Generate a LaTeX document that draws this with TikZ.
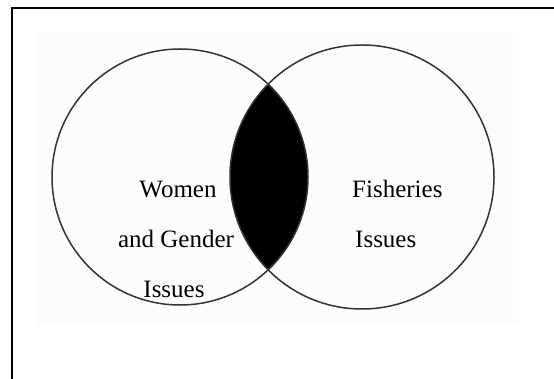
\documentclass[tikz,border=0pt]{standalone}
\usepackage{fontspec}
\setmainfont{Liberation Serif}
\usepackage{xcolor}
\usepackage{tikz}
\tikzstyle{ring} = [draw=black!80, line width=1.5pt]
\tikzstyle{lens} = [fill=black]
\tikzstyle{label} = [inner sep=0pt, anchor=base, font=\fontsize{25}{30}\selectfont]
\tikzstyle{frame} = [draw=black, line width=2pt]

\begin{document}
\begin{tikzpicture}[x=1pt, y=-1pt]
	\useasboundingbox (0,0) rectangle (554,379);
	% We start by placing the frame and the pale background
	\fill [black!1] (36,31) rectangle (519,326);
	\draw [frame] (554,8) -- (12,8) -- (12,379);
	\coordinate (women) at (180,177);
	\coordinate (fish) at (362,177);
	% The overlap is filled by clipping one circle with the other
	\begin{scope}
		\clip (women) circle (128);
		\fill [lens] (fish) circle (132);
	\end{scope}
	\draw [ring] (women) circle (128);
	\draw [ring] (fish) circle (132);
	% Labels, one line at a time
	\node [label] (w1) at (178,198) {Women};
	\node [label] (w2) at (176,248) {and Gender};
	\node [label] (w3) at (174,298) {Issues};
	\node [label, anchor=base west] (f1) at (352,198) {Fisheries};
	\node [label, anchor=base west] (f2) at (355,248) {Issues};
\end{tikzpicture}
\end{document}
